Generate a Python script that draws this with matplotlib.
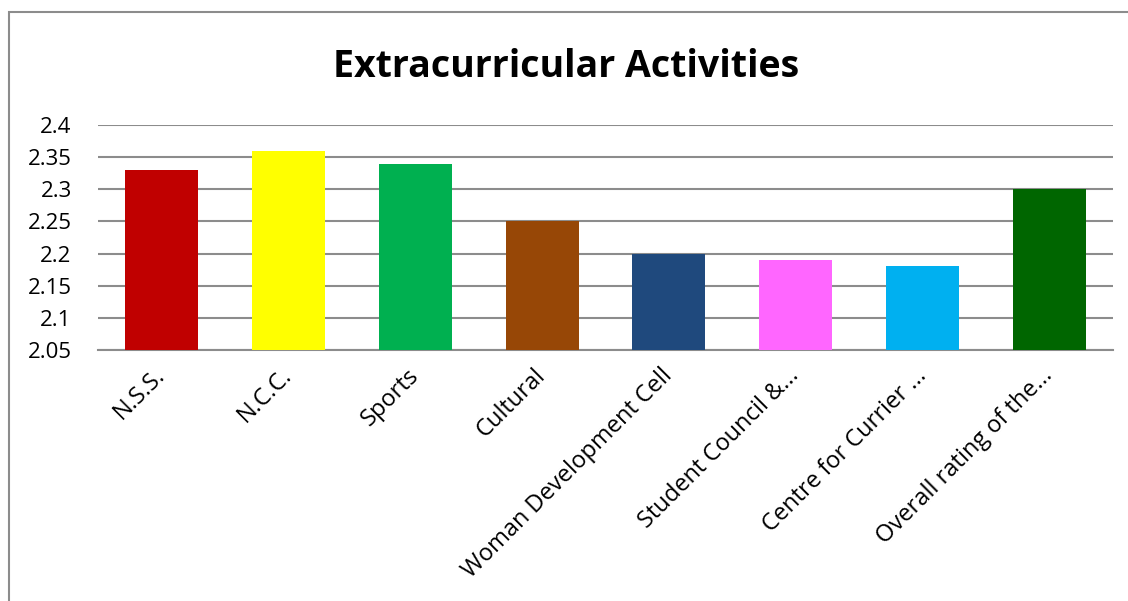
import matplotlib.pyplot as plt
from matplotlib.patches import Rectangle

# Values
categories = ['N.S.S.', 'N.C.C.', 'Sports', 'Cultural', 'Woman Development Cell',
              'Student Council &...', 'Centre for Currier ...', 'Overall rating of the...']
ratings = [2.33, 2.36, 2.34, 2.25, 2.20, 2.19, 2.18, 2.30]
bar_colors = ['#C00000', '#FFFF00', '#00B050', '#974706', '#1F497D',
              '#FF66FF', '#00B0F0', '#006600']
y_ticks = [2.05, 2.1, 2.15, 2.2, 2.25, 2.3, 2.35, 2.4]

plt.rcParams['font.family'] = ['Open Sans', 'DejaVu Sans']

fig = plt.figure(figsize=(11.28, 6.01), dpi=100)
ax = fig.add_axes([0.0869, 0.4176, 0.8998, 0.3744])

x = range(len(categories))
ax.bar(x, ratings, width=0.575, color=bar_colors, zorder=3)

ax.set_xlim(-0.5, len(categories) - 0.5)
ax.set_ylim(2.05, 2.4)
ax.set_yticks(y_ticks)
ax.set_yticklabels([f'{v:g}' for v in y_ticks], fontsize=16)
ax.yaxis.grid(True, color='#8C8C8C', linewidth=1.5, zorder=0)
ax.tick_params(axis='y', length=0, pad=19)
ax.tick_params(axis='x', length=0, pad=16)

ax.set_xticks(list(x))
ax.set_xticklabels(categories, rotation=45, ha='right', va='center',
                   rotation_mode='anchor', fontsize=17)

for side in ['top', 'right', 'left']:
    ax.spines[side].set_visible(False)
ax.spines['bottom'].set_color('#8C8C8C')
ax.spines['bottom'].set_linewidth(1.5)

fig.text(0.502, 0.888, 'Extracurricular Activities', ha='center', va='center',
         fontsize=27, fontweight='bold')

# chart border (runs off the right and bottom edges in the reference)
fig.patches.append(Rectangle((8.5 / 1128, -0.05), 1.2, 1 - 12.5 / 601 + 0.05,
                             transform=fig.transFigure, fill=False,
                             edgecolor='#8C8C8C', linewidth=1.5))

fig.savefig('out.png', dpi=100)
